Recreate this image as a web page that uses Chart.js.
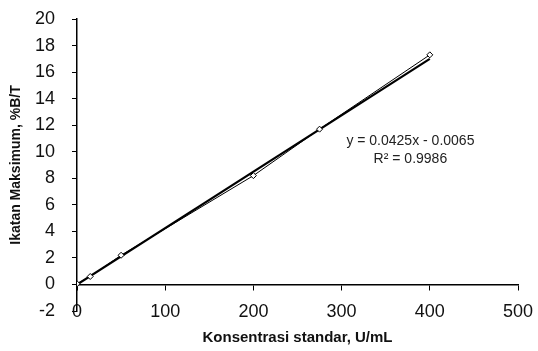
<!DOCTYPE html>
<html><head><meta charset="utf-8">
<script src="https://cdn.jsdelivr.net/npm/chart.js@4/dist/chart.umd.min.js"></script>
<style>html,body{margin:0;padding:0;background:#fff}#wrap{width:538px;height:351px}</style>
</head><body><div id="wrap"><canvas id="c" width="538" height="351"></canvas></div>
<script>
const concX = [0, 15, 50, 200, 275, 400];
const bindY = [0.05, 0.6, 2.2, 8.2, 11.7, 17.3];
const trendX = [0, 400];
const trendY = [-0.0065, 16.9935];
const xTicks = [0, 100, 200, 300, 400, 500];
const yTicks = [-2, 0, 2, 4, 6, 8, 10, 12, 14, 16, 18, 20];
const eqLines = ['y = 0.0425x - 0.0065', 'R\u00B2 = 0.9986'];
const eqAt = {x: 378, y: 10.8};

const FONT = '"Liberation Sans", Arial, sans-serif';
const eqPlugin = {
  id: 'eq',
  afterDatasetsDraw(chart) {
    const {ctx, scales} = chart;
    const px = scales.x.getPixelForValue(eqAt.x);
    const py = scales.y.getPixelForValue(eqAt.y);
    ctx.save();
    ctx.fillStyle = '#222';
    ctx.font = '14px ' + FONT;
    ctx.textAlign = 'center';
    ctx.textBaseline = 'middle';
    ctx.fillText(eqLines[0], px, py);
    ctx.fillText(eqLines[1], px, py + 18);
    ctx.restore();
  }
};

new Chart(document.getElementById('c'), {
  type: 'scatter',
  data: {
    datasets: [
      {
        label: 'Data',
        data: concX.map((x, i) => ({x, y: bindY[i]})),
        showLine: true,
        borderColor: '#000',
        borderWidth: 1,
        pointStyle: 'rectRot',
        pointRadius: 3,
        pointBackgroundColor: '#fff',
        pointBorderColor: '#000',
        pointBorderWidth: 1
      },
      {
        label: 'Trend',
        data: trendX.map((x, i) => ({x, y: trendY[i]})),
        showLine: true,
        borderColor: '#000',
        borderWidth: 2.2,
        pointRadius: 0
      }
    ]
  },
  options: {
    responsive: false,
    animation: false,
    layout: {padding: {left: 0, right: 20, top: 19, bottom: 40}},
    plugins: {legend: {display: false}, tooltip: {enabled: false}},
    scales: {
      x: {
        type: 'linear',
        position: {y: 0},
        min: 0, max: 500,
        afterBuildTicks(s) { s.ticks = xTicks.map(v => ({value: v})); },
        afterFit(s) { s.paddingLeft = 0; s.paddingRight = 0; },
        grid: {drawOnChartArea: false, drawTicks: true, tickLength: 5, color: '#000', lineWidth: 1},
        border: {display: true, color: '#000', width: 1.5},
        ticks: {color: '#111', font: {family: FONT, size: 18}, padding: 12, maxRotation: 0},
        title: {display: true, text: 'Konsentrasi standar, U/mL', color: '#111', font: {family: FONT, size: 15, weight: 'bold'}, padding: {top: -6}}
      },
      y: {
        type: 'linear',
        position: 'left',
        min: -2, max: 20,
        afterBuildTicks(s) { s.ticks = yTicks.map(v => ({value: v})); },
        afterFit(s) { s.width = 77; s.paddingTop = 0; s.paddingBottom = 0; },
        grid: {drawOnChartArea: false, drawTicks: true, tickLength: 5, color: '#000', lineWidth: 1},
        border: {display: true, color: '#000', width: 1.5},
        ticks: {color: '#111', font: {family: FONT, size: 18}, padding: 17},
        title: {display: true, text: 'Ikatan Maksimum, %B/T', color: '#111', font: {family: FONT, size: 14, weight: 'bold'}, padding: {top: 8, bottom: 0}}
      }
    }
  },
  plugins: [eqPlugin]
});
</script></body></html>
